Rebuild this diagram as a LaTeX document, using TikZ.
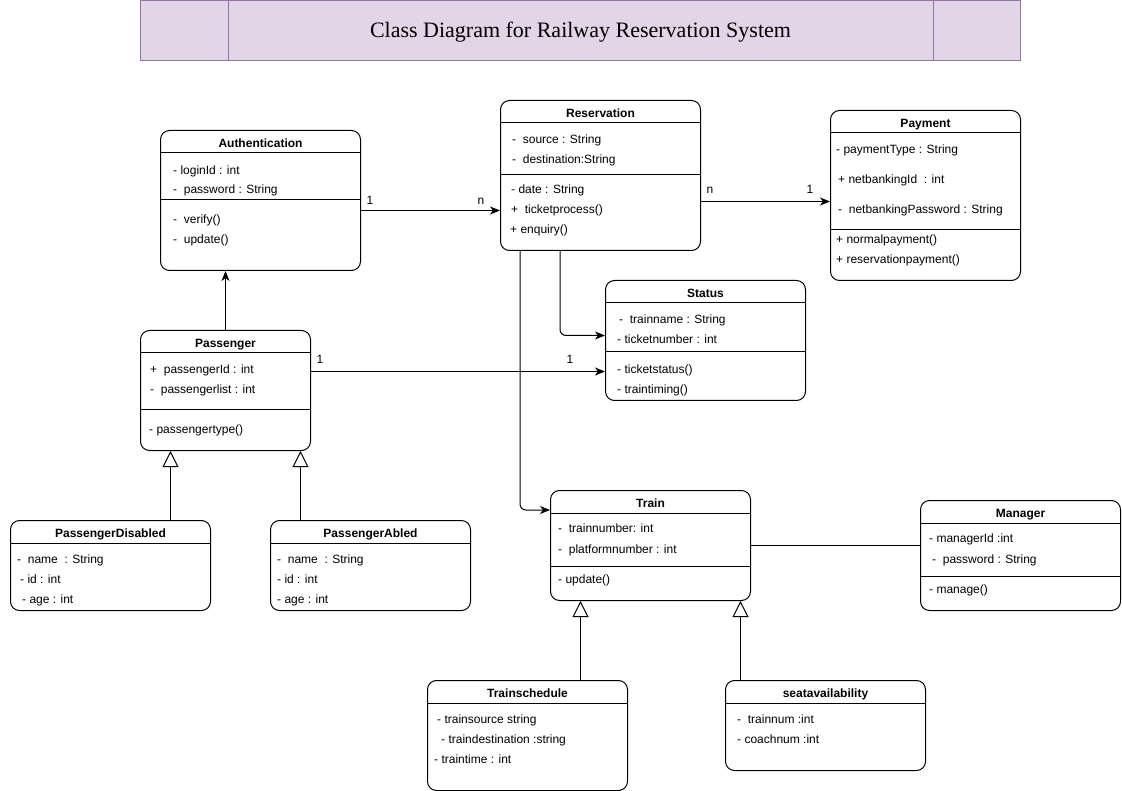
\documentclass[tikz,border=0pt]{standalone}
\usepackage{fontspec}
\setmainfont{Liberation Sans}
\newfontfamily\titlefont{Liberation Serif}
\usetikzlibrary{arrows.meta}
\definecolor{titlefill}{HTML}{E1D5E7}
\definecolor{titledraw}{HTML}{9673A6}
\tikzset{
  cls/.style={draw, rounded corners=9pt, line width=1pt, anchor=north west, inner sep=0pt, fill=white},
  hdr/.style={font=\bfseries\fontsize{12}{14}\selectfont, inner sep=0pt, text height=8.6pt, text depth=0pt},
  attr/.style={anchor=west, inner sep=0pt, font=\fontsize{12}{14}\selectfont, text height=9.6pt, text depth=0pt},
  lbl/.style={inner sep=0pt, font=\fontsize{12}{14}\selectfont, text height=9.6pt, text depth=0pt},
  sepline/.style={line width=1pt},
  assoc/.style={line width=1pt, -{Stealth[length=10pt,width=8pt,inset=3pt]}},
  plainline/.style={line width=1pt},
  gen/.style={line width=1pt, -{Triangle[open,length=16pt,width=16pt,fill=white]}}
}
\newcommand\umlclass[6]{%
  \node[cls, minimum width=#4pt, minimum height=#5pt] (#1) at (#2,#3) {};
  \node[hdr] (#1-title) at ([yshift=-13pt]#1.north) {#6};
  \draw[sepline] ([yshift=-23pt]#1.north west) -- ([yshift=-23pt]#1.north east);
}
\newcommand\umlsep[2]{%
  \draw[sepline] ([yshift=-#2pt]#1.north west) -- ([yshift=-#2pt]#1.north east);
}
\begin{document}
\begin{tikzpicture}[x=1pt,y=-1pt]
\useasboundingbox[fill=white] (0,0) rectangle (1122,791);

% Title
\node[draw=titledraw, fill=titlefill, line width=1pt, anchor=north west, minimum width=880pt, minimum height=60pt, inner sep=0pt] (titlebox) at (140,0) {};
\draw[titledraw, line width=0.8pt] ([xshift=88pt]titlebox.north west) -- ([xshift=88pt]titlebox.south west);
\draw[titledraw, line width=0.8pt] ([xshift=-88pt]titlebox.north east) -- ([xshift=-88pt]titlebox.south east);
\node[inner sep=0pt, font=\titlefont\fontsize{22}{26}\selectfont] (titletext) at ([yshift=-1.5pt]titlebox.center) {Class Diagram for Railway Reservation System};

% Authentication
\umlclass{auth}{160}{130}{200}{140}{Authentication}
\node[attr] (auth-a1) at (173,170) {- loginId : int};
\node[attr] (auth-a2) at (173,189) {-~ password : String};
\umlsep{auth}{70}
\node[attr] (auth-m1) at (173,219) {-~ verify()};
\node[attr] (auth-m2) at (173,239) {-~ update()};

% Reservation
\umlclass{res}{500}{100}{200}{150}{Reservation}
\node[attr] (res-a1) at (512,139) {-~ source : String};
\node[attr] (res-a2) at (512,159) {-~ destination:String};
\umlsep{res}{75}
\node[attr] (res-m1) at (511,189) {- date : String};
\node[attr] (res-m2) at (511,209) {+~ ticketprocess()};
\node[attr] (res-m3) at (510,229) {+ enquiry()};

% Payment
\umlclass{pay}{830}{110}{190}{170}{Payment}
\node[attr] (pay-a1) at (836,149) {- paymentType : String};
\node[attr] (pay-a2) at (838,179) {+ netbankingId~ : int};
\node[attr] (pay-a3) at (838,209) {-~ netbankingPassword : String};
\umlsep{pay}{120}
\node[attr] (pay-m1) at (836,239) {+ normalpayment()};
\node[attr] (pay-m2) at (836,259) {+ reservationpayment()};

% Status
\umlclass{stat}{605}{280}{200}{120}{Status}
\node[attr] (stat-a1) at (619,319) {-~ trainname : String};
\node[attr] (stat-a2) at (617,339) {- ticketnumber : int};
\umlsep{stat}{72}
\node[attr] (stat-m1) at (617,369) {- ticketstatus()};
\node[attr] (stat-m2) at (617,389) {- traintiming()};

% Passenger
\umlclass{pass}{140}{330}{170}{120}{Passenger}
\node[attr] (pass-a1) at (150,369) {+~ passengerId : int};
\node[attr] (pass-a2) at (150,389) {-~ passengerlist : int};
\umlsep{pass}{80}
\node[attr] (pass-m1) at (149,429) {- passengertype()};

% PassengerDisabled
\umlclass{pdis}{10}{520}{200}{90}{PassengerDisabled}
\node[attr] (pdis-a1) at (17,559) {-~ name~ : String};
\node[attr] (pdis-a2) at (20,579) {- id : int};
\node[attr] (pdis-a3) at (22,599) {- age : int};

% PassengerAbled
\umlclass{pabl}{270}{520}{200}{90}{PassengerAbled}
\node[attr] (pabl-a1) at (277,559) {-~ name~ : String};
\node[attr] (pabl-a2) at (277,579) {- id : int};
\node[attr] (pabl-a3) at (277,599) {- age : int};

% Train
\umlclass{train}{550}{490}{200}{110}{Train}
\node[attr] (train-a1) at (558,528) {-~ trainnumber: int};
\node[attr] (train-a2) at (558,549) {-~ platformnumber : int};
\umlsep{train}{76}
\node[attr] (train-m1) at (558,579) {- update()};

% Manager
\umlclass{mgr}{920}{500}{200}{110}{Manager}
\node[attr] (mgr-a1) at (929,538) {- managerId :int};
\node[attr] (mgr-a2) at (932,559) {-~ password : String};
\umlsep{mgr}{76}
\node[attr] (mgr-m1) at (929,589) {- manage()};

% Trainschedule
\umlclass{tsch}{427}{680}{200}{110}{Trainschedule}
\node[attr] (tsch-a1) at (437,719) {- trainsource string};
\node[attr] (tsch-a2) at (441,739) {- traindestination :string};
\node[attr] (tsch-a3) at (434,759) {- traintime : int};

% seatavailability
\umlclass{seat}{725}{680}{200}{90}{seatavailability}
\node[attr] (seat-a1) at (737,719) {-~ trainnum :int};
\node[attr] (seat-a2) at (737,739) {- coachnum :int};

% Connectors
\coordinate (c-auth) at ([yshift=-10pt]auth.east);
\draw[assoc] (c-auth) -- (c-auth -| res.west);
\node[lbl] (l-auth1) at (370,200) {1};
\node[lbl] (l-authn) at (481,200) {n};

\coordinate (c-res) at ([yshift=-26pt]res.east);
\draw[assoc] (c-res) -- (c-res -| pay.west);
\node[lbl] (l-resn) at (710,189) {n};
\node[lbl] (l-pay1) at (810,189) {1};

\draw[assoc] (pass.north) -- (pass.north |- auth.south);

\coordinate (c-pass) at ([yshift=19pt]pass.east);
\draw[assoc] (c-pass) -- (c-pass -| stat.west);
\node[lbl] (l-pass1) at (320,359) {1};
\node[lbl] (l-stat1) at (570,359) {1};

\draw[assoc, rounded corners=6pt] ([xshift=60pt]res.south west) |- ([yshift=5pt]stat.west);
\draw[assoc, rounded corners=6pt] ([xshift=20pt]res.south west) |- ([yshift=-20pt]train.north west);

\draw[plainline] (train.east) -- (train.east -| mgr.west);

\draw[gen] ([xshift=60pt]pdis.north) -- ([xshift=60pt]pdis.north |- pass.south);
\draw[gen] ([xshift=-70pt]pabl.north) -- ([xshift=-70pt]pabl.north |- pass.south);
\draw[gen] ([xshift=53pt]tsch.north) -- ([xshift=53pt]tsch.north |- train.south);
\draw[gen] ([xshift=-85pt]seat.north) -- ([xshift=-85pt]seat.north |- train.south);
\end{tikzpicture}
\end{document}
